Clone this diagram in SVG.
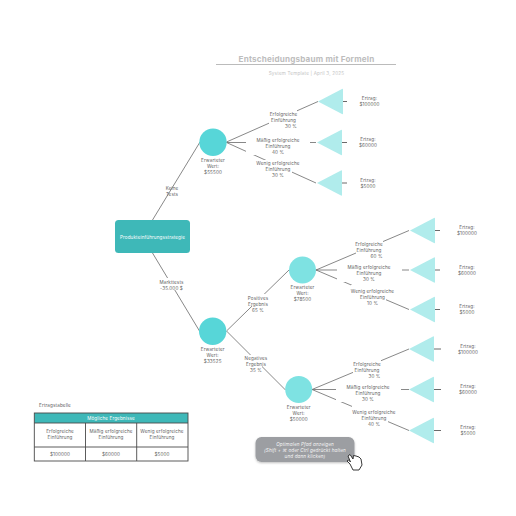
<svg xmlns="http://www.w3.org/2000/svg" width="516" height="516" viewBox="0 0 516 516">
<defs>
<filter id="sh" x="-10%" y="-20%" width="120%" height="150%"><feDropShadow dx="0" dy="1" stdDeviation="1" flood-color="#000" flood-opacity="0.25"/></filter>
<path id="tri" d="M-25 0L-1 -12.5Q0 -13 0 -12V12Q0 13 -1 12.5Z" fill="#b0ecec"/>
</defs>
<style>
text{font-family:"Inter","Liberation Sans",sans-serif;font-size:4.6px;fill:#5f5f5f;text-anchor:middle;letter-spacing:.12px}
.c{stroke:#6a6a6a;stroke-width:.8;fill:none}
.s{stroke:#444;stroke-width:.8;fill:none}
.bg{fill:#fff}
.t{stroke:#4a4a4a;stroke-width:.9;fill:none}
</style>
<rect width="516" height="516" fill="#fff"/>
<g id="title">
<text x="306.500" y="62" style="font-size:8.100px;font-weight:700;fill:#bdbdbd;letter-spacing:.2px">Entscheidungsbaum mit Formeln</text>
<line x1="216" y1="64.500" x2="396" y2="64.500" stroke="#aaa" stroke-width=".8"/>
<text x="306.500" y="74.500" style="fill:#c4c4c4;letter-spacing:.2px">System Template  |  April 3, 2025</text>
</g>
<g id="connectors">
<path class="c" d="M152.500 220L200 142M152.500 253L199.500 331M226.500 331L289 270M226.500 331L285.500 390"/>
<path class="c" d="M226.500 142L318 101.500M226.500 142.500H316M226.500 142.500L316 183"/>
<path class="c" d="M316 270L409 230.500M316 270H409M316 270L409 309.500"/>
<path class="c" d="M312 389.500L409 349M312 389.500H409M312 389.500L409 430.500"/>
<path class="s" d="M343 101.500H347M342 142.500H347M342 183H347M435 230.500H440M435 270H440M435 309.500H440M434 349H441M434 389.500H441M434 430.500H441"/>
</g>
<g id="edge-labels">
<text x="172" y="190">Keine</text><text x="172" y="196">Tests</text>
<rect class="bg" x="160" y="278" width="26" height="12"/>
<text x="171.500" y="283.500">Markttests</text><text x="171.500" y="289.500">-35.000 $</text>
<rect class="bg" x="252" y="294" width="13" height="12.500"/>
<text x="258" y="299.500">Positives</text><text x="258" y="305.500">Ergebnis</text><text x="258" y="311.500">65 %</text>
<rect class="bg" x="249" y="355" width="13" height="12"/>
<text x="256" y="359.500">Negatives</text><text x="256" y="365.500">Ergebnis</text><text x="256" y="371.500">35 %</text>

<rect class="bg" x="269" y="110" width="28" height="19"/>
<text x="283.500" y="115.500">Erfolgreiche</text><text x="283.500" y="121.500">Einführung</text><text x="291" y="127.500">30 %</text>
<rect class="bg" x="246" y="136" width="64" height="19"/>
<text x="278" y="141.500">Mäßig erfolgreiche</text><text x="278" y="147.500">Einführung</text><text x="278" y="153.500">40 %</text>
<rect class="bg" x="256.500" y="160" width="35.500" height="19"/>
<text x="278" y="165">Wenig erfolgreiche</text><text x="278" y="171">Einführung</text><text x="278" y="177">30 %</text>

<rect class="bg" x="356" y="240" width="27" height="19"/>
<text x="369" y="246">Erfolgreiche</text><text x="369" y="252">Einführung</text><text x="376.500" y="258">60 %</text>
<rect class="bg" x="337" y="263" width="65" height="19"/>
<text x="369" y="269">Mäßig erfolgreiche</text><text x="369" y="275">Einführung</text><text x="369" y="281">30 %</text>
<rect class="bg" x="351" y="285" width="35" height="21"/>
<text x="372.500" y="293">Wenig erfolgreiche</text><text x="372.500" y="299">Einführung</text><text x="372.500" y="305">10 %</text>

<rect class="bg" x="353" y="360" width="28" height="19"/>
<text x="367" y="366">Erfolgreiche</text><text x="367" y="372">Einführung</text><text x="374.500" y="378">30 %</text>
<rect class="bg" x="336" y="383" width="65" height="19"/>
<text x="368" y="388.500">Mäßig erfolgreiche</text><text x="368" y="394.500">Einführung</text><text x="368" y="400.500">30 %</text>
<rect class="bg" x="352" y="405" width="36" height="20"/>
<text x="374" y="414">Wenig erfolgreiche</text><text x="374" y="420">Einführung</text><text x="374" y="426">40 %</text>
</g>
<g id="root">
<rect x="115" y="220" width="75" height="33" rx="3.500" fill="#3eb8b8"/>
<text x="152.500" y="238.500" style="fill:#fff">Produkteinführungsstrategie</text>
</g>
<g id="ev1"><circle cx="213" cy="142.300" r="13.700" fill="#57d6d8"/>
<text x="213" y="161.500">Erwarteter</text><text x="213" y="167.500">Wert:</text><text x="213" y="173.500">$55500</text></g>
<g id="ev2"><circle cx="212.700" cy="331.300" r="13.700" fill="#57d6d8"/>
<text x="212.700" y="350.500">Erwarteter</text><text x="212.700" y="356.500">Wert:</text><text x="212.700" y="362.500">$33525</text></g>
<g id="ev3"><circle cx="302.500" cy="270" r="13.500" fill="#7ee2e2"/>
<text x="302.500" y="289">Erwarteter</text><text x="302.500" y="295">Wert:</text><text x="302.500" y="301">$78500</text></g>
<g id="ev4"><circle cx="298.700" cy="389.400" r="13.500" fill="#7ee2e2"/>
<text x="298.700" y="408.500">Erwarteter</text><text x="298.700" y="414.500">Wert:</text><text x="298.700" y="420.500">$50000</text></g>
<g id="out1"><use href="#tri" x="343" y="101.500"/><text x="369.500" y="100">Ertrag:</text><text x="369.500" y="106">$100000</text></g>
<g id="out2"><use href="#tri" x="342" y="142.500"/><text x="368" y="141">Ertrag:</text><text x="368" y="147">$60000</text></g>
<g id="out3"><use href="#tri" x="342" y="183"/><text x="368" y="182">Ertrag:</text><text x="368" y="188">$5000</text></g>
<g id="out4"><use href="#tri" x="435" y="230.500"/><text x="467" y="229">Ertrag:</text><text x="467" y="235">$100000</text></g>
<g id="out5"><use href="#tri" x="435" y="270"/><text x="467" y="269">Ertrag:</text><text x="467" y="275">$60000</text></g>
<g id="out6"><use href="#tri" x="435" y="309.500"/><text x="467" y="308">Ertrag:</text><text x="467" y="314">$5000</text></g>
<g id="out7"><use href="#tri" x="434" y="349"/><text x="468" y="348">Ertrag:</text><text x="468" y="354">$100000</text></g>
<g id="out8"><use href="#tri" x="434" y="389.500"/><text x="468" y="388">Ertrag:</text><text x="468" y="394">$60000</text></g>
<g id="out9"><use href="#tri" x="434" y="430.500"/><text x="468" y="429">Ertrag:</text><text x="468" y="435">$5000</text></g>
<g id="table">
<text x="55" y="407">Ertragstabelle</text>
<rect x="34.300" y="413" width="153.700" height="10" fill="#3eb8b8"/>
<rect class="t" x="34.300" y="413" width="153.700" height="48"/>
<path class="t" d="M34.300 423H188M34.300 447H188M85.500 423V461M136.700 423V461"/>
<text x="111" y="419.800" style="fill:#fff">Mögliche Ergebnisse</text>
<text x="60" y="433">Erfolgreiche</text><text x="60" y="439">Einführung</text>
<text x="111" y="433">Mäßig erfolgreiche</text><text x="111" y="439">Einführung</text>
<text x="162" y="433">Wenig erfolgreiche</text><text x="162" y="439">Einführung</text>
<text x="60" y="456">$100000</text><text x="111" y="456">$60000</text><text x="162" y="456">$5000</text>
</g>
<g id="button">
<rect x="255.500" y="437" width="99" height="25" rx="6" fill="#9c9ea2" filter="url(#sh)"/>
<text x="305" y="445.500" style="fill:#f4f4f4;font-style:italic">Optimalen Pfad anzeigen</text>
<text x="305" y="451.500" style="fill:#f4f4f4;font-style:italic">(Shift + ⌘ oder Ctrl gedrückt halten</text>
<text x="305" y="457.500" style="fill:#f4f4f4;font-style:italic">und dann klicken)</text>
<path d="M348 456L350 454.500L353 459L353.500 455.500L356 456L359 457L361 459L362 465L359 470H353L350 464L347 461L348.500 460L350.500 462Z" fill="#fff" stroke="#222" stroke-width=".9" stroke-linejoin="round"/>
</g>
</svg>
